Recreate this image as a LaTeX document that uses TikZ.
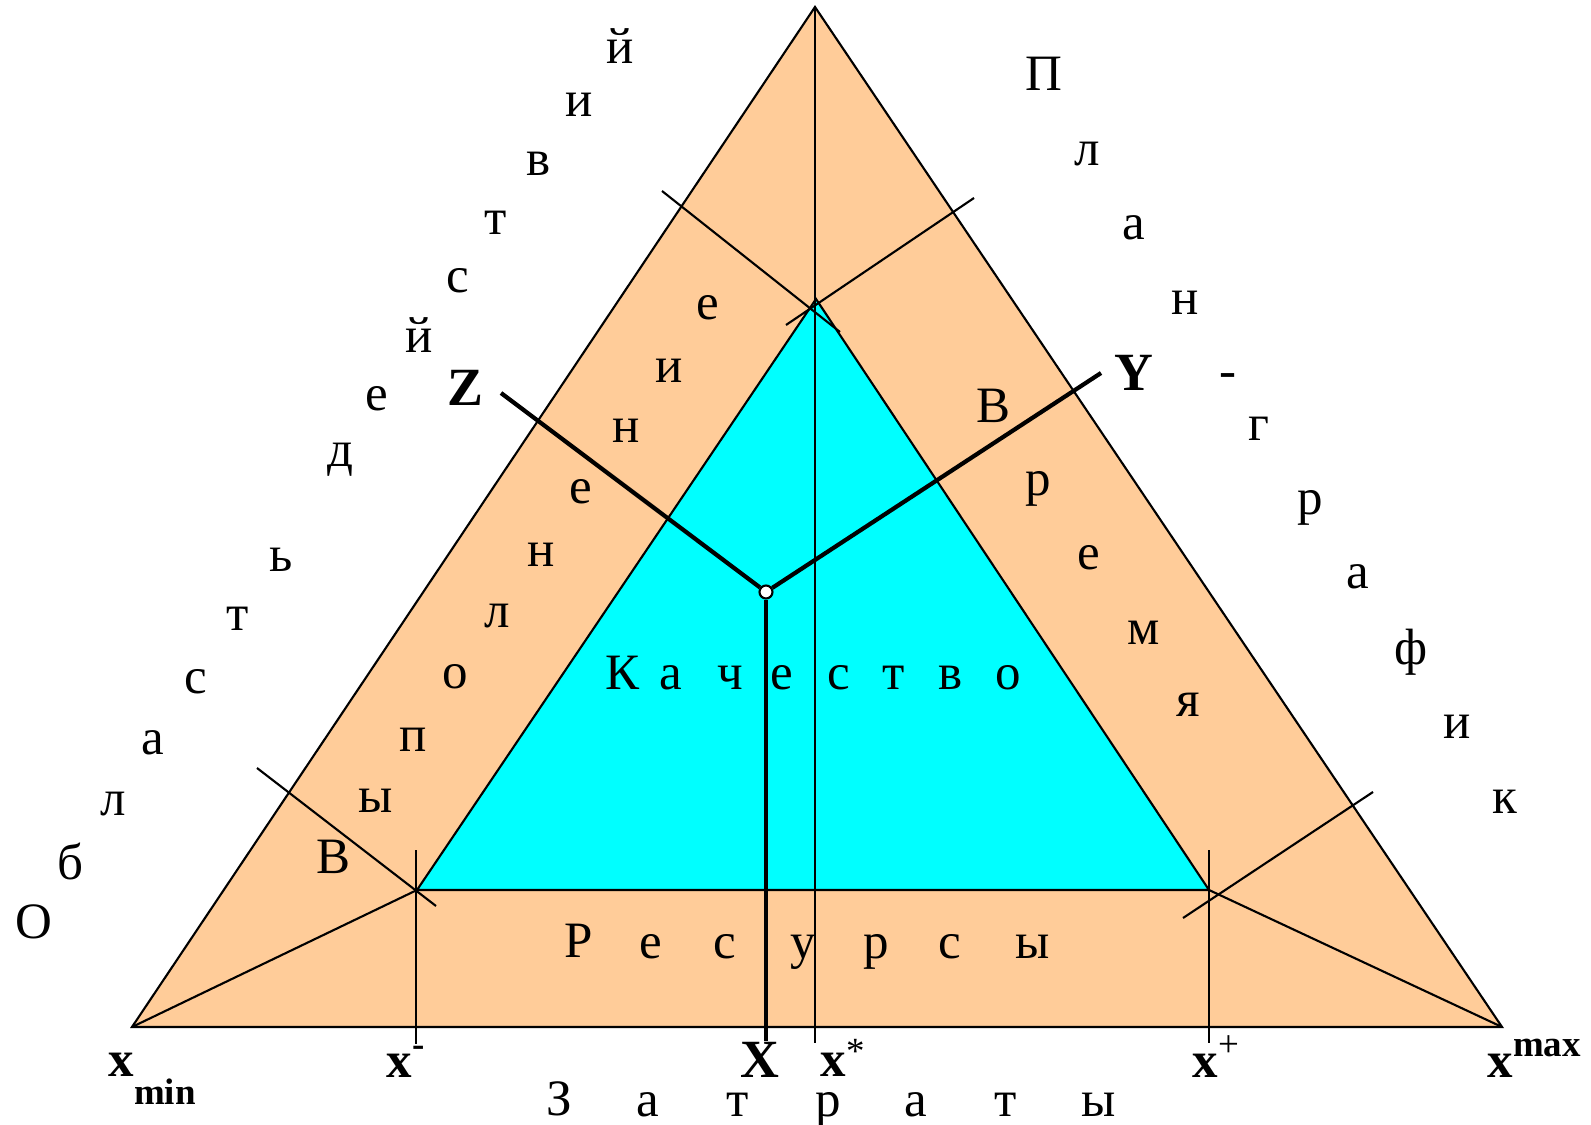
\documentclass[tikz,border=0pt]{standalone}
\usepackage{fontspec}
\setmainfont{Liberation Serif}
\definecolor{peach}{HTML}{FFCC99}
\definecolor{aqua}{HTML}{00FFFF}
\tikzstyle{letter} = [inner sep=0pt, text height=0.46em, text depth=0pt, font=\fontsize{14.5}{17}\selectfont]
\tikzstyle{xlabel} = [inner sep=0pt, anchor=base west, font=\fontsize{14.5}{17}\selectfont\bfseries]
\tikzstyle{axlabel} = [inner sep=0pt, font=\fontsize{15.3}{18}\selectfont\bfseries]
\tikzstyle{guide} = [line width=0.6pt]
\tikzstyle{axis} = [line width=1.2pt]
\tikzstyle{origin} = [circle, draw=black, fill=white, line width=0.6pt, inner sep=0pt, minimum size=0.13cm]
\newcommand{\lo}[1]{\raisebox{-0.55em}{\fontsize{10.5}{12}\selectfont #1}}
\newcommand{\hi}[1]{\raisebox{0.40em}{\fontsize{10.5}{12}\selectfont #1}}

\begin{document}
\begin{tikzpicture}[x=0.01cm, y=-0.01cm]
\useasboundingbox (0,0) rectangle (1591,1125);
\coordinate (xmin) at (132,1027);
\coordinate (xmax) at (1502,1027);
\coordinate (top) at (815,7);
\coordinate (inL) at (417,890);
\coordinate (inR) at (1209,890);
\coordinate (inT) at (816,299);

\fill [peach] (xmin) -- (top) -- (xmax) -- cycle;
\draw [guide] (xmin) -- (top) -- (xmax) -- cycle;
\draw [guide, fill=aqua] (inL) -- (inT) -- (inR) -- cycle;

% guide lines
\coordinate (xs) at (815,1043);
\coordinate (xmTop) at (416,850);
\coordinate (xmBot) at (416,1044);
\coordinate (xpTop) at (1209,850);
\coordinate (xpBot) at (1209,1043);
\draw [guide] (top) -- (xs);
\draw [guide] (xmTop) -- (xmBot);
\draw [guide] (xpTop) -- (xpBot);
\draw [guide] (xmin) -- (inL);
\draw [guide] (xmax) -- (inR);
\coordinate (zl1) at (257,768);
\coordinate (zl2) at (436,906);
\coordinate (zt1) at (662,191);
\coordinate (zt2) at (840,332);
\coordinate (yt1) at (974,198);
\coordinate (yt2) at (786,325);
\coordinate (yr1) at (1373,792);
\coordinate (yr2) at (1183,918);
\draw [guide] (zl1) -- (zl2);
\draw [guide] (zt1) -- (zt2);
\draw [guide] (yt1) -- (yt2);
\draw [guide] (yr1) -- (yr2);

% axes
\node (O) [origin] at (766,592) {};
\coordinate (Zend) at (501,393);
\coordinate (Yend) at (1101,373);
\coordinate (Xend) at (766,1041);
\draw [axis] (O) -- (Zend);
\draw [axis] (O) -- (Yend);
\draw [axis] (O) -- (Xend);
\node (Zlbl) [axlabel] at (465,388) {Z};
\node (Ylbl) [axlabel] at (1134,373) {Y};
\node (Xlbl) [axlabel, anchor=base] at (760,1077) {X};

% axis marks
\node (lmin) [xlabel] at (108,1076) {x\lo{min}};
\node (lminus) [xlabel] at (386,1077) {x\hi{-}};
\node (lstar) [xlabel] at (820,1076) {x\raisebox{0.25em}{\fontsize{10.5}{12}\selectfont\mdseries *}};
\node (lplus) [xlabel] at (1192,1077) {x\hi{\mdseries +}};
\node (lmax) [xlabel] at (1487,1077) {x\hi{max}};

% Область действий
\node (ob1) [letter] at (34,930) {О};
\node (ob2) [letter] at (70,871) {б};
\node (ob3) [letter] at (113,807) {л};
\node (ob4) [letter] at (153,746) {а};
\node (ob5) [letter] at (196,685) {с};
\node (ob6) [letter] at (238,622) {т};
\node (ob7) [letter] at (281,563) {ь};
\node (de1) [letter] at (340,458) {д};
\node (de2) [letter] at (377,402) {е};
\node (de3) [letter] at (419,344) {й};
\node (de4) [letter] at (458,284) {с};
\node (de5) [letter] at (496,226) {т};
\node (de6) [letter] at (539,167) {в};
\node (de7) [letter] at (579,108) {и};
\node (de8) [letter] at (620,55) {й};

% План-график
\node (pl1) [letter] at (1044,82) {П};
\node (pl2) [letter] at (1087,157) {л};
\node (pl3) [letter] at (1134,231) {а};
\node (pl4) [letter] at (1185,306) {н};
\node (pl5) [letter] at (1228,379) {-};
\node (pl6) [letter] at (1259,432) {г};
\node (pl7) [letter] at (1310,506) {р};
\node (pl8) [letter] at (1358,580) {а};
\node (pl9) [letter] at (1411,656) {ф};
\node (pl10) [letter] at (1457,730) {и};
\node (pl11) [letter] at (1505,805) {к};

% Выполнение
\node (vy1) [letter] at (333,865) {В};
\node (vy2) [letter] at (376,804) {ы};
\node (vy3) [letter] at (413,743) {п};
\node (vy4) [letter] at (455,680) {о};
\node (vy5) [letter] at (497,619) {л};
\node (vy6) [letter] at (541,558) {н};
\node (vy7) [letter] at (581,495) {е};
\node (vy8) [letter] at (626,434) {н};
\node (vy9) [letter] at (669,374) {и};
\node (vy10) [letter] at (708,311) {е};

% Время
\node (vr1) [letter] at (993,414) {В};
\node (vr2) [letter] at (1038,487) {р};
\node (vr3) [letter] at (1089,561) {е};
\node (vr4) [letter] at (1144,636) {м};
\node (vr5) [letter] at (1188,708) {я};

% Ресурсы
\node (re1) [letter] at (579,949) {Р};
\node (re2) [letter] at (651,950) {е};
\node (re3) [letter] at (725,950) {с};
\node (re4) [letter] at (803,950) {у};
\node (re5) [letter] at (876,950) {р};
\node (re6) [letter] at (950,950) {с};
\node (re7) [letter] at (1033,950) {ы};

% Качество
\node (ka1) [letter] at (622,681) {К};
\node (ka2) [letter] at (671,681) {а};
\node (ka3) [letter] at (730,681) {ч};
\node (ka4) [letter] at (782,681) {е};
\node (ka5) [letter] at (839,681) {с};
\node (ka6) [letter] at (894,681) {т};
\node (ka7) [letter] at (951,681) {в};
\node (ka8) [letter] at (1008,681) {о};

% Затраты
\node (za1) [letter] at (559,1107) {З};
\node (za2) [letter] at (648,1108) {а};
\node (za3) [letter] at (738,1108) {т};
\node (za4) [letter] at (828,1108) {р};
\node (za5) [letter] at (916,1108) {а};
\node (za6) [letter] at (1006,1108) {т};
\node (za7) [letter] at (1099,1108) {ы};
\end{tikzpicture}
\end{document}
